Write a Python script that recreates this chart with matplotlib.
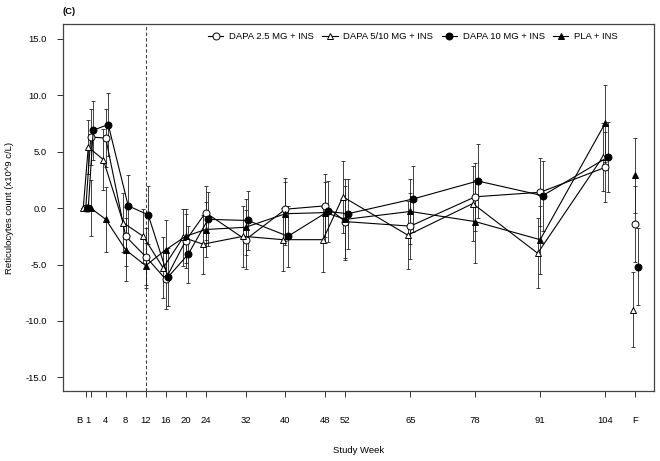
import matplotlib
matplotlib.use("Agg")
import matplotlib.pyplot as plt
import matplotlib.transforms as mtransforms
import numpy as np

plt.rcParams['font.family'] = ['Liberation Sans', 'DejaVu Sans']

# ---- data ----
weeks = [0, 1, 4, 8, 12, 16, 20, 24, 32, 40, 48, 52, 65, 78, 91, 104]
tick_labels = ["B", "1", "4", "8", "12", "16", "20", "24", "32", "40", "48", "52",
               "65", "78", "91", "104", "F"]
series_names = ["DAPA 2.5 MG + INS", "DAPA 5/10 MG + INS", "DAPA 10 MG + INS", "PLA + INS"]

dapa25 = [0, 6.3, 6.2, -2.5, -4.3, -6.3, -2.9, -0.4, -2.8, -0.1, 0.2, -1.2, -1.6, 1.0, 1.4, 3.6]
dapa510 = [0, 5.4, 4.3, -1.3, -2.5, -5.3, -2.6, -3.2, -2.5, -2.8, -2.8, 1.0, -2.4, 0.4, -4.0, 4.5]
dapa10 = [0, 6.9, 7.4, 0.2, -0.6, -6.1, -4.1, -1.0, -1.1, -2.5, -0.3, -0.5, 0.8, 2.4, 1.1, 4.5]
pla = [0, 0.0, -1.0, -3.7, -5.1, -3.7, -2.5, -1.9, -1.7, -0.5, -0.4, -1.0, -0.3, -1.2, -2.8, 7.5]

se25 = [0, 2.5, 2.6, 2.6, 2.5, 2.6, 2.4, 2.4, 2.6, 2.8, 2.8, 3.2, 2.9, 3.0, 3.0, 3.1]
se510 = [0, 2.4, 2.7, 2.6, 2.4, 2.7, 2.5, 2.6, 2.7, 2.8, 2.9, 3.2, 3.0, 3.3, 3.1, 3.0]
se10 = [0, 2.6, 2.8, 2.7, 2.6, 2.6, 2.5, 2.4, 2.6, 2.7, 2.7, 3.1, 2.95, 3.3, 3.1, 3.1]
sepla = [0, 2.5, 2.9, 2.8, 2.0, 2.6, 2.4, 2.4, 2.5, 2.8, 2.7, 3.6, 2.9, 3.7, 3.0, 3.4]

final_vals = [-1.4, -9.0, -5.2, 2.9]
final_se = [3.4, 3.35, 3.4, 3.3]

# ---- layout ----
F_POS = 110
offsets = [0.0, -0.5, 0.5, 0.0]
styles = [dict(marker='o', mfc='white'), dict(marker='^', mfc='white'),
          dict(marker='o', mfc='black'), dict(marker='^', mfc='black')]

fig = plt.figure(figsize=(6.6, 4.61), dpi=100)
ax = fig.add_axes([0.0959, 0.152, 0.895, 0.795])

vals = [dapa25, dapa510, dapa10, pla]
ses = [se25, se510, se10, sepla]
handles = []
for i in range(4):
    x = np.array(weeks, dtype=float) + offsets[i]
    st = styles[i]
    ax.errorbar(x, vals[i], yerr=ses[i], fmt='none', ecolor='#222222',
                elinewidth=0.6, capsize=1.6, capthick=0.6, zorder=2)
    h, = ax.plot(x, vals[i], color='black', lw=0.8, marker=st['marker'],
                 mfc=st['mfc'], mec='black', mew=0.7, ms=5, zorder=3)
    handles.append(h)
    ax.errorbar([F_POS + offsets[i]], [final_vals[i]], yerr=[final_se[i]], fmt='none',
                ecolor='#222222', elinewidth=0.6, capsize=1.6, capthick=0.6, zorder=2)
    ax.plot([F_POS + offsets[i]], [final_vals[i]], ls='none', marker=st['marker'],
            mfc=st['mfc'], mec='black', mew=0.7, ms=5, zorder=3)

ax.axvline(12, color='#444444', lw=0.8, ls=(0, (3, 2)), zorder=1)

ax.set_xlim(-4.5, 113.8)
ax.set_ylim(-16.2, 16.27)
ax.set_xticks(weeks + [F_POS])
ax.set_xticklabels(tick_labels)
ax.set_yticks([-15, -10, -5, 0, 5, 10, 15])
ax.set_yticklabels(["%.1f" % v for v in [-15, -10, -5, 0, 5, 10, 15]])
ax.tick_params(axis='both', labelsize=6.8, length=4, width=0.7, color='#333333')
ax.tick_params(axis='x', pad=14)
ax.tick_params(axis='y', pad=8)
for sp in ax.spines.values():
    sp.set_color('#444444')
    sp.set_linewidth(0.9)

# nudge the crowded "B" and "1" labels apart
xt = ax.get_xticklabels()
xt[0].set_transform(xt[0].get_transform() + mtransforms.ScaledTranslation(-6 / 100, 0, fig.dpi_scale_trans))
xt[1].set_transform(xt[1].get_transform() + mtransforms.ScaledTranslation(-3 / 100, 0, fig.dpi_scale_trans))

ax.set_xlabel("Study Week", fontsize=6.8, labelpad=15)
ax.set_ylabel("Reticulocytes count (x10^9 c/L)", fontsize=6.8, labelpad=8)

ax.legend(handles, series_names, loc='center', bbox_to_anchor=(0.592, 0.967), ncol=4,
          frameon=False, fontsize=6.8, handlelength=1.6, handletextpad=0.6,
          columnspacing=0.9, borderaxespad=0)

fig.text(0.094, 0.975, "(C)", fontsize=6.8, fontweight='bold', ha='left', va='center')

fig.savefig("out.png", dpi=100)
